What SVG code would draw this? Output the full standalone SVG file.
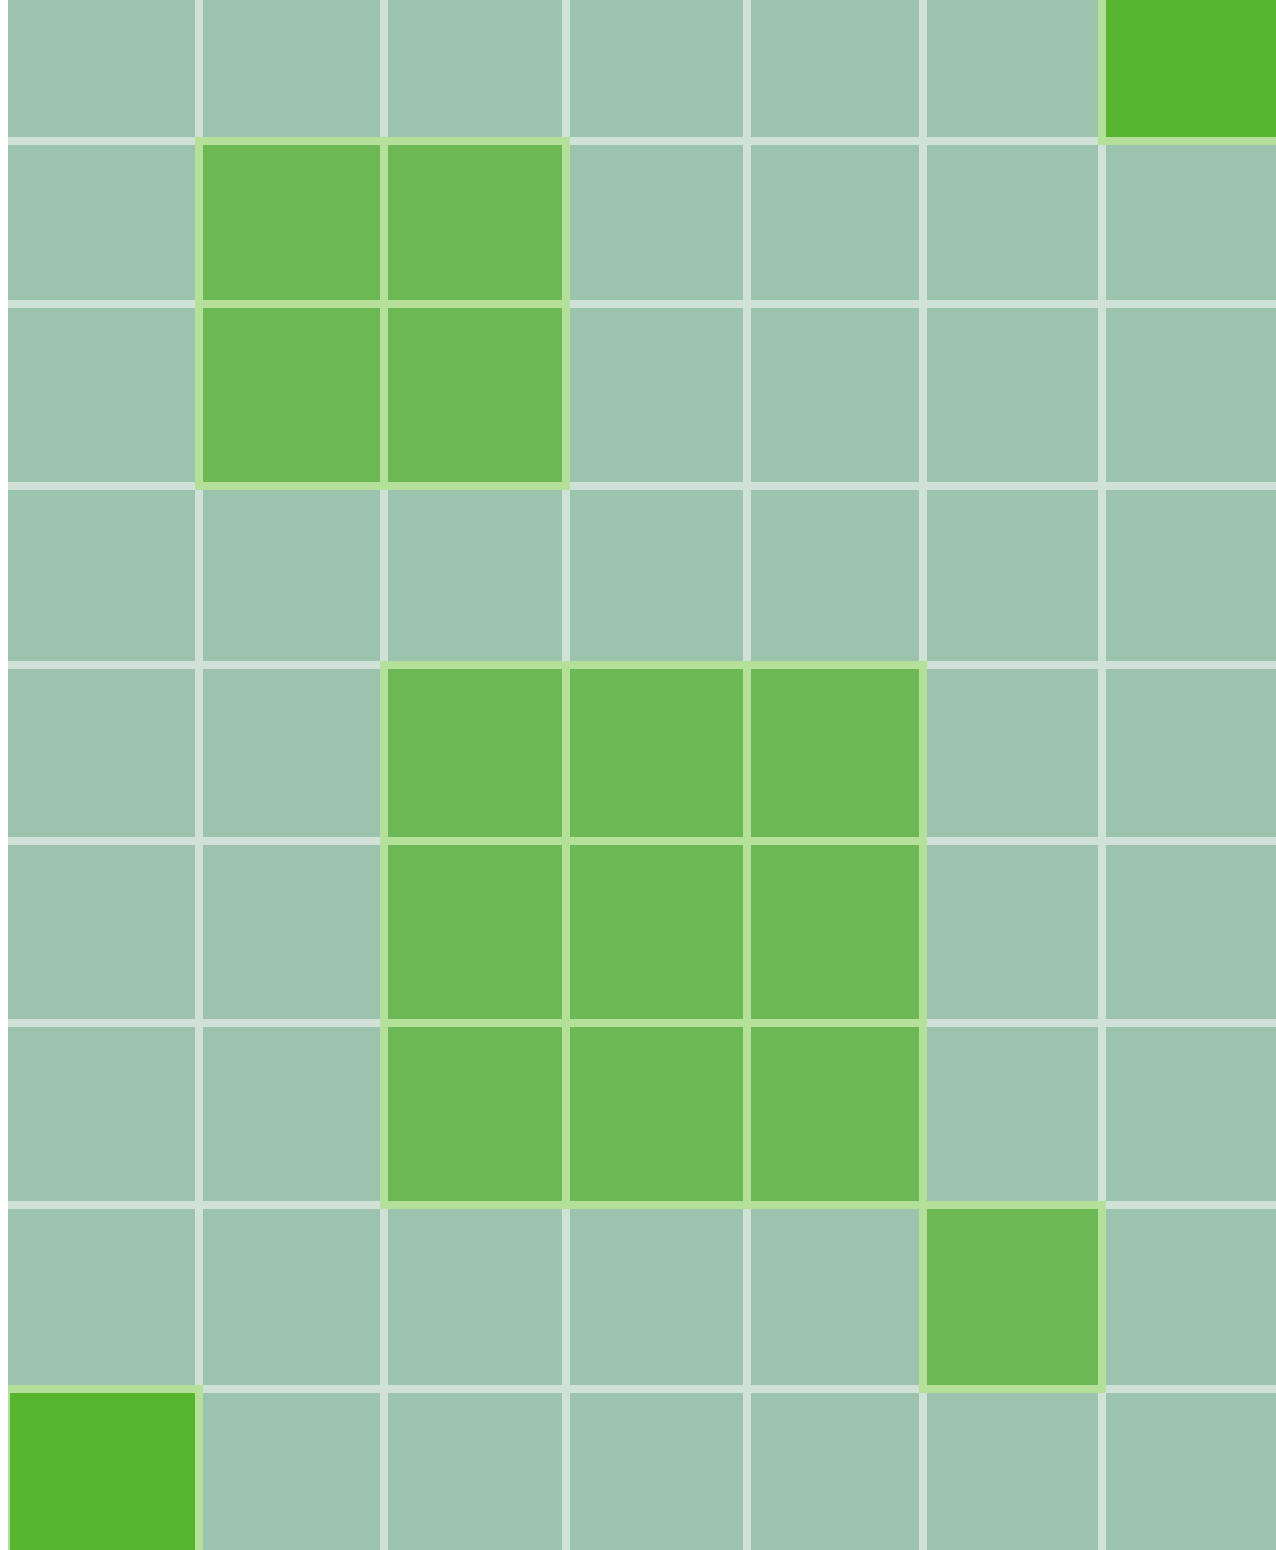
<svg xmlns="http://www.w3.org/2000/svg" width="1276" height="1550" viewBox="0 0 1276 1550">
  <style>
    .bg { fill: #9cc3ae; }
    .ln { fill: #d0e2d8; }
    .hl { fill: #b4e09a; }
    .cell { fill: #6bb854; }
    .bright { fill: #56b42e; }
  </style>
  <rect x="0" y="0" width="1276" height="1550" fill="#ffffff"/>
  <g id="grid">
    <rect class="bg" x="8" y="0" width="1268" height="1550"/>
    <rect class="ln" x="195" y="0" width="8" height="1550"/>
    <rect class="ln" x="380" y="0" width="8" height="1550"/>
    <rect class="ln" x="562" y="0" width="8" height="1550"/>
    <rect class="ln" x="743" y="0" width="8" height="1550"/>
    <rect class="ln" x="919" y="0" width="8" height="1550"/>
    <rect class="ln" x="1098" y="0" width="8" height="1550"/>
    <rect class="ln" x="8" y="137" width="1268" height="8"/>
    <rect class="ln" x="8" y="300" width="1268" height="8"/>
    <rect class="ln" x="8" y="482" width="1268" height="8"/>
    <rect class="ln" x="8" y="661" width="1268" height="8"/>
    <rect class="ln" x="8" y="837" width="1268" height="8"/>
    <rect class="ln" x="8" y="1019" width="1268" height="8"/>
    <rect class="ln" x="8" y="1201" width="1268" height="8"/>
    <rect class="ln" x="8" y="1385" width="1268" height="8"/>
  </g>
  <g id="top-right">
    <rect class="hl" x="1098" y="0" width="178" height="145"/>
    <rect class="bright" x="1106" y="0" width="170" height="137"/>
  </g>
  <g id="block-a">
    <rect class="hl" x="195" y="137" width="375" height="353"/>
    <rect class="cell" x="203" y="145" width="177" height="155"/>
    <rect class="cell" x="388" y="145" width="174" height="155"/>
    <rect class="cell" x="203" y="308" width="177" height="174"/>
    <rect class="cell" x="388" y="308" width="174" height="174"/>
  </g>
  <g id="block-b">
    <rect class="hl" x="380" y="661" width="547" height="548"/>
    <rect class="cell" x="388" y="669" width="174" height="168"/>
    <rect class="cell" x="570" y="669" width="173" height="168"/>
    <rect class="cell" x="751" y="669" width="168" height="168"/>
    <rect class="cell" x="388" y="845" width="174" height="174"/>
    <rect class="cell" x="570" y="845" width="173" height="174"/>
    <rect class="cell" x="751" y="845" width="168" height="174"/>
    <rect class="cell" x="388" y="1027" width="174" height="174"/>
    <rect class="cell" x="570" y="1027" width="173" height="174"/>
    <rect class="cell" x="751" y="1027" width="168" height="174"/>
  </g>
  <g id="cell-c">
    <rect class="hl" x="919" y="1201" width="187" height="192"/>
    <rect class="cell" x="927" y="1209" width="171" height="176"/>
  </g>
  <g id="bottom-left">
    <rect class="hl" x="8" y="1385" width="195" height="165"/>
    <rect class="bright" x="10" y="1393" width="185" height="157"/>
  </g>
</svg>
